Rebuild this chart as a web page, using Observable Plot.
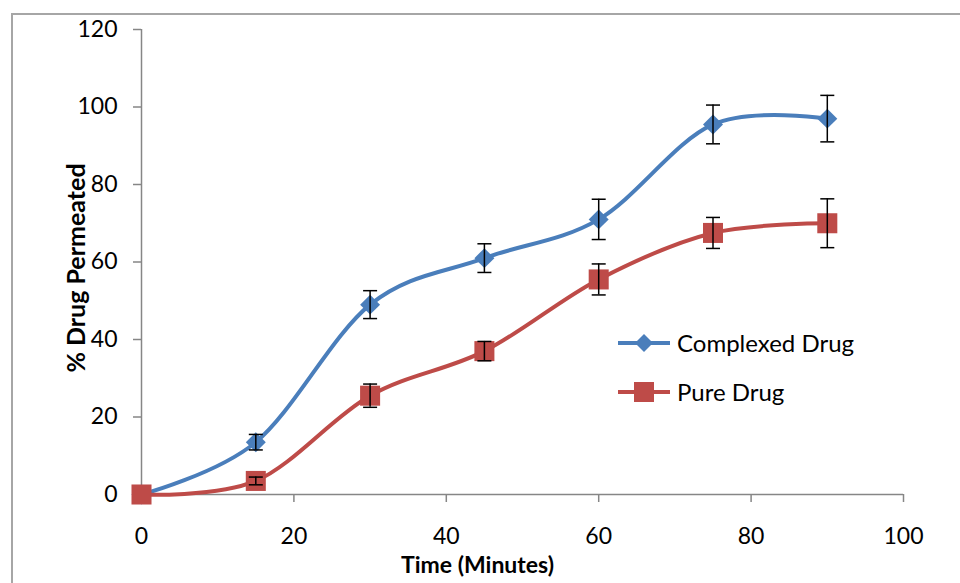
<!DOCTYPE html>
<html><head><meta charset="utf-8">
<script src="https://cdn.jsdelivr.net/npm/d3@7"></script>
<script src="https://cdn.jsdelivr.net/npm/@observablehq/plot@0.6"></script>
<style>
html,body{margin:0;padding:0;background:#fff;overflow:hidden;width:960px;height:583px;}
#frame{position:absolute;left:11px;top:13px;width:1000px;height:700px;border:2px solid #a6a6a6;box-sizing:border-box}
#chart{position:absolute;left:0;top:0}
#legend{position:absolute;left:618px;top:318px;font-family:Lato,sans-serif;font-size:24px;color:#000}
.row{display:flex;align-items:center;height:49px}
.row svg{margin-right:7px}
</style></head><body>
<div id="frame"></div><div id="chart"></div><div id="legend"></div>
<script>
const times = [0, 15, 30, 45, 60, 75, 90];
const complexed = [0, 13.5, 49, 61, 71, 95.5, 97];
const complexedErr = [0, 2, 3.6, 3.7, 5.2, 5, 6];
const pure = [0, 3.5, 25.5, 37, 55.5, 67.5, 70];
const pureErr = [0, 1, 3, 2.5, 4, 4, 6.3];
const seriesNames = ["Complexed Drug", "Pure Drug"];
const colors = ["#4A7EBB", "#BE4B48"];
const xTicks = [0, 20, 40, 60, 80, 100];
const yTicks = [0, 20, 40, 60, 80, 100, 120];
const xTitle = "Time (Minutes)";
const yTitle = "% Drug Permeated";

const rows = times.map((t, i) => ({t, c: complexed[i], ce: complexedErr[i], p: pure[i], pe: pureErr[i]}));
const errRows = rows.filter(d => d.t > 0);
const cap = {draw(ctx, size) { const w = Math.sqrt(size); ctx.moveTo(-w / 2, 0); ctx.lineTo(w / 2, 0); }};

function errMarks(key, ekey) {
  return [
    Plot.ruleX(errRows, {x: "t", y1: d => d[key] - d[ekey], y2: d => d[key] + d[ekey], stroke: "#000", strokeWidth: 1.5}),
    Plot.dot(errRows, {x: "t", y: d => d[key] - d[ekey], symbol: cap, r: 7.9, stroke: "#000", strokeWidth: 1.5, fill: "none"}),
    Plot.dot(errRows, {x: "t", y: d => d[key] + d[ekey], symbol: cap, r: 7.9, stroke: "#000", strokeWidth: 1.5, fill: "none"})
  ];
}

const chart = Plot.plot({
  width: 960, height: 583,
  marginLeft: 141, marginRight: 57, marginTop: 29, marginBottom: 89,
  style: {fontFamily: "Lato, sans-serif", fontSize: "23px", color: "#000", background: "transparent"},
  x: {domain: [0, 100]},
  y: {domain: [0, 120]},
  marks: [
    Plot.axisX(xTicks, {tickSize: 8, tickPadding: 25, stroke: "#868686", fill: "#000", label: null, strokeWidth: 1.5}),
    Plot.axisY(yTicks, {tickSize: 8, tickPadding: 16, stroke: "#868686", fill: "#000", label: null, strokeWidth: 1.5}),
    Plot.ruleY([0], {stroke: "#868686", strokeWidth: 1.5}),
    Plot.ruleX([0], {stroke: "#868686", strokeWidth: 1.5}),
    Plot.line(rows, {x: "t", y: "c", stroke: colors[0], strokeWidth: 4, curve: "cardinal", tension: 0}),
    Plot.line(rows, {x: "t", y: "p", stroke: colors[1], strokeWidth: 4, curve: "cardinal", tension: 0}),
    Plot.dot(rows, {x: "t", y: "c", symbol: "diamond2", r: 9, fill: colors[0], stroke: "none"}),
    Plot.dot(rows, {x: "t", y: "p", symbol: "square", r: 11.3, fill: colors[1], stroke: "none"}),
    ...errMarks("c", "ce"),
    ...errMarks("p", "pe"),
    Plot.text([xTitle], {text: d => d, frameAnchor: "bottom", textAnchor: "middle", dx: -45, dy: 78, fontWeight: "bold", fontSize: 23, fill: "#000"}),
    Plot.text([yTitle], {text: d => d, frameAnchor: "left", textAnchor: "middle", dx: -65, dy: 6, rotate: -90, fontWeight: "bold", fontSize: 25, fill: "#000"})
  ]
});
document.getElementById("chart").appendChild(chart);

const legend = document.getElementById("legend");
seriesNames.forEach((name, i) => {
  const row = document.createElement("div");
  row.className = "row";
  const marker = i === 0
    ? `<path d="M26,15 L35,24 L26,33 L17,24 Z" fill="${colors[0]}"/>`
    : `<rect x="16" y="14" width="20" height="20" fill="${colors[1]}"/>`;
  row.innerHTML = `<svg width="52" height="48"><line x1="0" y1="24" x2="52" y2="24" stroke="${colors[i]}" stroke-width="4"/>${marker}</svg><span>${name}</span>`;
  legend.appendChild(row);
});
</script>
</body></html>
